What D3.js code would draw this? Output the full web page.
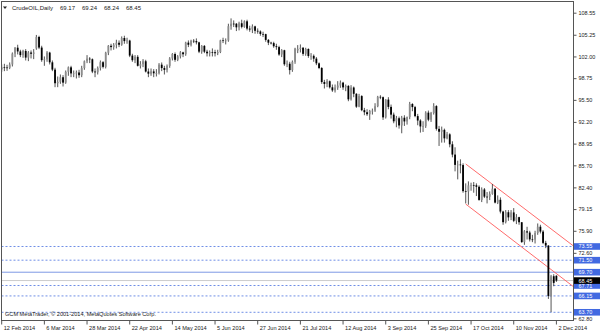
<!DOCTYPE html>
<html>
<head>
<meta charset="utf-8">
<script src="https://cdn.jsdelivr.net/npm/d3@7"></script>
<style>
  html, body { margin: 0; padding: 0; background: #fff; }
  svg { display: block; }
</style>
</head>
<body>
<div id="chart"></div>
<script>
// chart data
const symbolTitle = "CrudeOIL,Daily";
const copyright = "GCM MetaTrader, \u00a9 2001-2014, MetaQuotes Software Corp.";

const tickBars = [0, 16, 32, 48, 64, 80, 96, 112, 128, 144, 160, 176, 192, 208];
const tickLabels = ["12 Feb 2014", "6 Mar 2014", "28 Mar 2014", "22 Apr 2014", "14 May 2014", "5 Jun 2014",
  "27 Jun 2014", "21 Jul 2014", "12 Aug 2014", "3 Sep 2014", "25 Sep 2014", "17 Oct 2014", "10 Nov 2014", "2 Dec 2014"];

// scale labels still visible (69.30 and 66.05 sit under the level boxes)
const priceTicks = [108.55, 105.25, 102.00, 98.75, 95.50, 92.20, 88.95, 85.70, 82.40, 79.15, 75.90, 72.60, 62.80];

const dashedLevels = [73.55, 71.50, 67.71, 66.15, 63.70];
const solidLevel = 69.70;
const bidLevel = 68.45;

// channel: [startBar, startPrice, endBar, endPrice]
const channelLines = [
  [174, 85.9, 214.5, 73.6],
  [174, 79.9, 214.5, 67.5]
];

// daily bars [open, high, low, close]
const bars = [
  [100.05, 100.80, 99.70, 100.37], [100.37, 100.90, 99.80, 100.35], [100.35, 100.75, 99.85, 100.30],
  [100.30, 101.10, 100.10, 100.80], [100.80, 102.60, 100.50, 102.43], [102.43, 103.40, 101.90, 103.31],
  [103.31, 103.75, 102.30, 102.75], [102.75, 103.00, 101.90, 102.20], [102.20, 103.00, 101.80, 102.82],
  [102.82, 103.10, 101.40, 101.83], [101.83, 102.80, 101.30, 102.59], [102.59, 102.90, 101.70, 102.40],
  [102.40, 103.10, 101.60, 102.59], [103.20, 105.22, 103.00, 104.92], [104.92, 105.10, 103.10, 103.33],
  [103.33, 103.60, 101.20, 101.45], [101.45, 102.00, 100.60, 101.56], [101.56, 102.80, 101.20, 102.58],
  [102.58, 102.70, 100.80, 101.12], [101.12, 101.40, 99.80, 100.03], [100.03, 100.30, 97.40, 97.99],
  [97.99, 99.00, 97.40, 98.20], [98.20, 99.30, 97.90, 98.89], [98.89, 99.20, 97.50, 98.08],
  [98.08, 99.90, 97.90, 99.70], [99.70, 100.50, 99.10, 100.37], [100.37, 100.60, 98.90, 99.46],
  [99.46, 99.90, 98.90, 99.46], [99.46, 99.90, 98.70, 99.60], [99.60, 100.00, 98.80, 99.19],
  [99.19, 100.60, 98.90, 100.26], [100.26, 101.40, 100.00, 101.28], [101.28, 102.20, 101.00, 101.67],
  [101.67, 101.90, 101.00, 101.58], [101.58, 101.70, 99.50, 99.74], [99.74, 100.20, 98.90, 99.62],
  [99.62, 100.50, 99.30, 100.29], [100.29, 101.40, 99.90, 101.14], [101.14, 101.30, 100.20, 100.44],
  [100.44, 102.70, 100.20, 102.56], [102.56, 103.70, 102.20, 103.60], [103.60, 103.90, 102.90, 103.40],
  [103.40, 104.00, 103.00, 103.74], [103.74, 104.50, 103.20, 104.05], [104.05, 104.40, 103.40, 103.75],
  [103.75, 105.00, 103.60, 104.76], [104.76, 105.10, 103.90, 104.30], [104.30, 104.80, 103.90, 104.38],
  [104.38, 104.50, 101.90, 102.13], [102.13, 102.40, 101.20, 101.44], [101.44, 102.20, 101.00, 101.94],
  [101.94, 102.20, 100.50, 100.60], [100.60, 101.30, 100.20, 100.84], [100.84, 101.60, 100.40, 101.28],
  [101.28, 101.50, 99.60, 99.74], [99.74, 100.20, 98.90, 99.42], [99.42, 100.20, 99.10, 99.76],
  [99.76, 100.10, 98.90, 99.48], [99.48, 100.10, 99.00, 99.50], [99.50, 101.00, 99.30, 100.77],
  [100.77, 101.10, 99.80, 100.26], [100.26, 100.60, 99.30, 99.99], [99.99, 100.80, 99.60, 100.59],
  [100.59, 101.90, 100.30, 101.70], [101.70, 102.50, 101.40, 102.37], [102.37, 102.60, 101.20, 101.50],
  [101.50, 102.20, 101.30, 102.02], [102.02, 102.80, 101.70, 102.61], [102.61, 102.70, 101.90, 102.33],
  [102.33, 104.20, 102.10, 104.07], [104.07, 104.40, 103.40, 103.75], [103.75, 104.50, 103.50, 104.35],
  [104.35, 104.60, 104.00, 104.30], [104.30, 104.70, 103.80, 104.11], [104.11, 104.20, 102.50, 102.72],
  [102.72, 103.70, 102.40, 103.58], [103.58, 103.70, 102.50, 102.71], [102.71, 103.00, 102.00, 102.47],
  [102.47, 102.90, 102.00, 102.66], [102.66, 103.20, 102.00, 102.64], [102.64, 103.00, 102.00, 102.48],
  [102.48, 103.00, 102.20, 102.66], [102.66, 104.50, 102.50, 104.41], [104.41, 104.80, 104.00, 104.35],
  [104.35, 104.70, 103.80, 104.40], [104.40, 106.90, 104.20, 106.53], [106.53, 107.70, 106.00, 106.91],
  [106.91, 107.40, 106.40, 106.90], [106.90, 107.00, 105.80, 106.36], [106.36, 107.20, 105.90, 106.97],
  [106.97, 107.50, 106.20, 106.43], [106.43, 107.40, 106.30, 107.26], [107.26, 107.50, 105.90, 106.17],
  [106.17, 106.60, 105.70, 106.03], [106.03, 106.80, 105.50, 106.50], [106.50, 106.60, 105.40, 105.84],
  [105.84, 106.20, 105.40, 105.74], [105.74, 105.90, 105.10, 105.37], [105.37, 105.70, 104.90, 105.34],
  [105.34, 105.40, 104.20, 104.48], [104.48, 104.60, 103.70, 104.06], [104.06, 104.20, 103.80, 104.00],
  [104.00, 104.20, 103.30, 103.53], [103.53, 103.90, 103.00, 103.40], [103.40, 103.60, 102.10, 102.29],
  [102.29, 103.10, 101.90, 102.93], [102.93, 103.00, 100.60, 100.83], [100.83, 101.40, 100.40, 100.91],
  [100.91, 101.20, 99.30, 99.96], [99.96, 101.40, 99.70, 101.20], [101.20, 103.30, 100.90, 103.19],
  [102.90, 103.70, 102.50, 103.13], [103.13, 103.80, 102.60, 103.30], [103.30, 103.40, 102.10, 102.39],
  [102.39, 103.30, 102.10, 103.12], [103.12, 103.20, 101.80, 102.07], [102.07, 102.50, 101.50, 102.09],
  [102.09, 102.30, 101.20, 101.67], [101.67, 101.90, 100.70, 100.97], [100.97, 101.10, 100.10, 100.27],
  [100.27, 100.40, 97.90, 98.17], [98.17, 98.50, 97.20, 97.88], [97.88, 98.60, 97.40, 98.29],
  [98.29, 98.40, 97.20, 97.38], [97.38, 97.80, 96.70, 96.92], [96.92, 97.80, 96.60, 97.34],
  [97.34, 98.30, 97.00, 97.65], [97.65, 98.40, 97.30, 98.08], [98.08, 98.20, 97.00, 97.37],
  [97.37, 97.80, 96.80, 97.59], [97.59, 97.70, 95.30, 95.58], [95.58, 97.70, 95.40, 97.35],
  [97.35, 97.50, 95.90, 96.41], [96.41, 96.50, 94.30, 94.48], [94.48, 96.40, 94.40, 96.07],
  [96.07, 96.20, 93.80, 93.96], [93.96, 94.30, 93.20, 93.65], [93.65, 94.10, 93.10, 93.35],
  [93.35, 94.00, 92.50, 93.86], [93.86, 94.20, 93.30, 93.88], [93.88, 95.00, 93.70, 94.55],
  [94.55, 96.10, 94.40, 95.96], [95.96, 96.20, 95.60, 95.90], [95.90, 96.00, 92.50, 92.88],
  [92.88, 95.60, 92.70, 95.54], [95.54, 95.90, 94.10, 94.45], [94.45, 94.80, 92.70, 93.29],
  [93.29, 93.60, 92.00, 92.29], [92.29, 93.10, 91.40, 92.75], [92.75, 93.00, 91.20, 91.67],
  [91.67, 93.10, 90.50, 92.83], [92.83, 93.20, 91.60, 92.27], [92.27, 93.00, 91.80, 92.92],
  [92.92, 95.20, 92.60, 94.88], [94.88, 95.00, 93.80, 94.42], [94.42, 94.60, 92.90, 93.07],
  [93.07, 93.40, 91.70, 92.41], [92.41, 92.60, 90.60, 91.52], [91.52, 92.30, 90.70, 91.56],
  [91.56, 93.80, 91.30, 93.59], [93.59, 93.90, 92.30, 92.53], [92.53, 93.70, 92.20, 93.54],
  [93.54, 95.00, 93.30, 94.57], [94.57, 94.70, 90.90, 91.16], [91.16, 91.60, 88.60, 90.73],
  [90.73, 91.50, 89.10, 91.01], [91.01, 91.20, 89.10, 89.74], [89.74, 90.70, 89.60, 90.34],
  [90.34, 90.50, 88.40, 88.85], [88.85, 89.30, 86.90, 87.31], [87.31, 88.40, 84.80, 85.77],
  [85.77, 86.40, 83.60, 85.82], [85.82, 86.60, 84.50, 85.74], [85.74, 86.00, 81.60, 81.84],
  [81.84, 83.00, 80.00, 81.78], [81.78, 83.30, 79.80, 82.70], [82.70, 83.10, 81.90, 82.75],
  [82.75, 83.20, 81.60, 82.71], [82.71, 83.00, 81.10, 82.49], [82.49, 82.70, 80.40, 80.52],
  [80.52, 82.40, 80.20, 82.09], [82.09, 82.30, 80.80, 81.01], [81.01, 81.70, 80.00, 81.00],
  [81.00, 81.80, 80.50, 81.42], [81.42, 82.90, 81.30, 82.20], [82.20, 82.30, 80.00, 80.12],
  [80.12, 81.20, 79.90, 80.54], [80.54, 80.90, 78.50, 78.78], [78.78, 78.90, 76.80, 77.19],
  [77.19, 79.00, 77.00, 78.68], [78.68, 79.00, 77.40, 77.91], [77.91, 79.00, 77.50, 78.65],
  [78.65, 79.30, 77.20, 77.40], [77.40, 78.40, 76.90, 77.94], [77.94, 78.00, 76.80, 77.18],
  [77.18, 77.20, 74.10, 74.21], [74.21, 76.00, 73.80, 75.82], [75.82, 76.50, 74.60, 75.64],
  [75.64, 75.90, 74.30, 74.61], [74.61, 75.30, 74.20, 74.58], [74.58, 75.90, 74.00, 75.58],
  [75.58, 77.00, 75.30, 76.51], [76.51, 76.80, 75.50, 75.78], [75.78, 76.00, 73.90, 74.09],
  [74.09, 74.40, 73.30, 73.69], [73.69, 73.75, 65.70, 66.15], [66.15, 69.30, 63.72, 69.10],
  [69.10, 69.40, 67.60, 68.10], [69.17, 69.24, 68.24, 68.45]
];

const width = 600;
const height = 333;
const plot = { left: 1.5, top: 1.5, right: 573.5, bottom: 320.5 };
const fontFamily = "'Liberation Sans', Arial, sans-serif";

const svg = d3.select("#chart").append("svg")
  .attr("width", width)
  .attr("height", height)
  .style("font-family", fontFamily);

svg.append("rect").attr("width", width).attr("height", height).attr("fill", "#fff");

const x = d3.scaleLinear().domain([0, 208]).range([1.7, 556.4]);
const y = d3.scaleLinear().domain([62.80, 108.55]).range([318.3, 12.7]);

svg.append("clipPath").attr("id", "plotclip")
  .append("rect")
  .attr("x", plot.left).attr("y", plot.top)
  .attr("width", plot.right - plot.left).attr("height", plot.bottom - plot.top);

const area = svg.append("g").attr("clip-path", "url(#plotclip)");

// horizontal levels
area.selectAll("line.level")
  .data(dashedLevels)
  .enter()
  .append("line")
  .attr("class", "level")
  .attr("x1", plot.left).attr("x2", plot.right)
  .attr("y1", function (d) { return y(d); })
  .attr("y2", function (d) { return y(d); })
  .attr("stroke", "#6f8ee6")
  .attr("stroke-width", 1)
  .attr("stroke-dasharray", "2,2");

area.append("line")
  .attr("x1", plot.left).attr("x2", plot.right)
  .attr("y1", y(solidLevel)).attr("y2", y(solidLevel))
  .attr("stroke", "#7d98e4").attr("stroke-width", 1);

area.append("line")
  .attr("x1", plot.left).attr("x2", plot.right)
  .attr("y1", y(bidLevel)).attr("y2", y(bidLevel))
  .attr("stroke", "#cccccc").attr("stroke-width", 1);

// channel
area.selectAll("line.channel")
  .data(channelLines)
  .enter()
  .append("line")
  .attr("class", "channel")
  .attr("x1", function (d) { return x(d[0]); })
  .attr("y1", function (d) { return y(d[1]); })
  .attr("x2", function (d) { return x(d[2]); })
  .attr("y2", function (d) { return y(d[3]); })
  .attr("stroke", "#ff5a5a")
  .attr("stroke-width", 0.9);

// candles
const candle = area.selectAll("g.bar")
  .data(bars)
  .enter()
  .append("g")
  .attr("class", "bar");

candle.append("line")
  .attr("x1", function (_, i) { return x(i); })
  .attr("x2", function (_, i) { return x(i); })
  .attr("y1", function (d) { return y(d[1]); })
  .attr("y2", function (d) { return y(d[2]); })
  .attr("stroke", "#2a2a2a")
  .attr("stroke-width", 0.8);

candle.append("rect")
  .attr("x", function (_, i) { return x(i) - 0.9; })
  .attr("width", 1.8)
  .attr("y", function (d) { return y(Math.max(d[0], d[3])); })
  .attr("height", function (d) { return Math.max(0.7, Math.abs(y(d[0]) - y(d[3]))); })
  .attr("fill", function (d) { return d[3] >= d[0] ? "#8c8c8c" : "#000"; });

// frame
svg.append("rect")
  .attr("x", plot.left).attr("y", plot.top)
  .attr("width", plot.right - plot.left).attr("height", plot.bottom - plot.top)
  .attr("fill", "none").attr("stroke", "#555").attr("stroke-width", 1);

// price axis
svg.append("g")
  .attr("transform", "translate(" + plot.right + ",0)")
  .call(d3.axisRight(y).tickValues(priceTicks).tickSize(3).tickPadding(2).tickFormat(d3.format(".2f")))
  .call(function (g) {
    g.select(".domain").remove();
    g.selectAll("line").attr("stroke", "#555");
    g.selectAll("text").attr("fill", "#222").attr("font-size", 5.5).attr("font-family", fontFamily);
  });

// level labels on the price axis
const boxH = 6.6;
const levelLabels = dashedLevels.concat([solidLevel]);
const lab = svg.append("g").selectAll("g")
  .data(levelLabels)
  .enter()
  .append("g");
lab.append("rect")
  .attr("x", plot.right + 0.5).attr("width", width - plot.right)
  .attr("y", function (d) { return y(d) - boxH / 2; }).attr("height", boxH)
  .attr("fill", "#4169e1");
lab.append("text")
  .attr("x", plot.right + 5).attr("y", function (d) { return y(d) + 2; })
  .attr("fill", "#fff").attr("font-size", 5.5)
  .text(function (d) { return d.toFixed(2); });

const bid = svg.append("g");
bid.append("rect")
  .attr("x", plot.right + 0.5).attr("width", width - plot.right)
  .attr("y", y(bidLevel) - boxH / 2).attr("height", boxH)
  .attr("fill", "#000");
bid.append("text")
  .attr("x", plot.right + 5).attr("y", y(bidLevel) + 2)
  .attr("fill", "#fff").attr("font-size", 5.5)
  .text(bidLevel.toFixed(2));

// time axis
const tg = svg.append("g").selectAll("g")
  .data(tickBars)
  .enter()
  .append("g");
tg.append("line")
  .attr("x1", function (d) { return x(d); }).attr("x2", function (d) { return x(d); })
  .attr("y1", plot.bottom).attr("y2", plot.bottom + 4)
  .attr("stroke", "#555");
tg.append("text")
  .attr("x", function (d) { return x(d) + 2; })
  .attr("y", plot.bottom + 9)
  .attr("fill", "#222").attr("font-size", 5.6)
  .text(function (_, i) { return tickLabels[i]; });

// title with last bar values
const last = bars[bars.length - 1];
svg.append("path")
  .attr("d", "M3,6.5 L7,6.5 L5,9 Z")
  .attr("fill", "#222");
svg.append("text")
  .attr("x", 12).attr("y", 10)
  .attr("fill", "#222").attr("font-size", 6)
  .text(symbolTitle);
svg.append("g").selectAll("text")
  .data(last)
  .enter()
  .append("text")
  .attr("x", function (_, i) { return 60 + i * 22; })
  .attr("y", 10)
  .attr("fill", "#222").attr("font-size", 6)
  .text(function (d) { return d.toFixed(2); });

svg.append("text")
  .attr("x", 5).attr("y", 316)
  .attr("fill", "#222").attr("font-size", 5.6)
  .text(copyright);
</script>
</body>
</html>
